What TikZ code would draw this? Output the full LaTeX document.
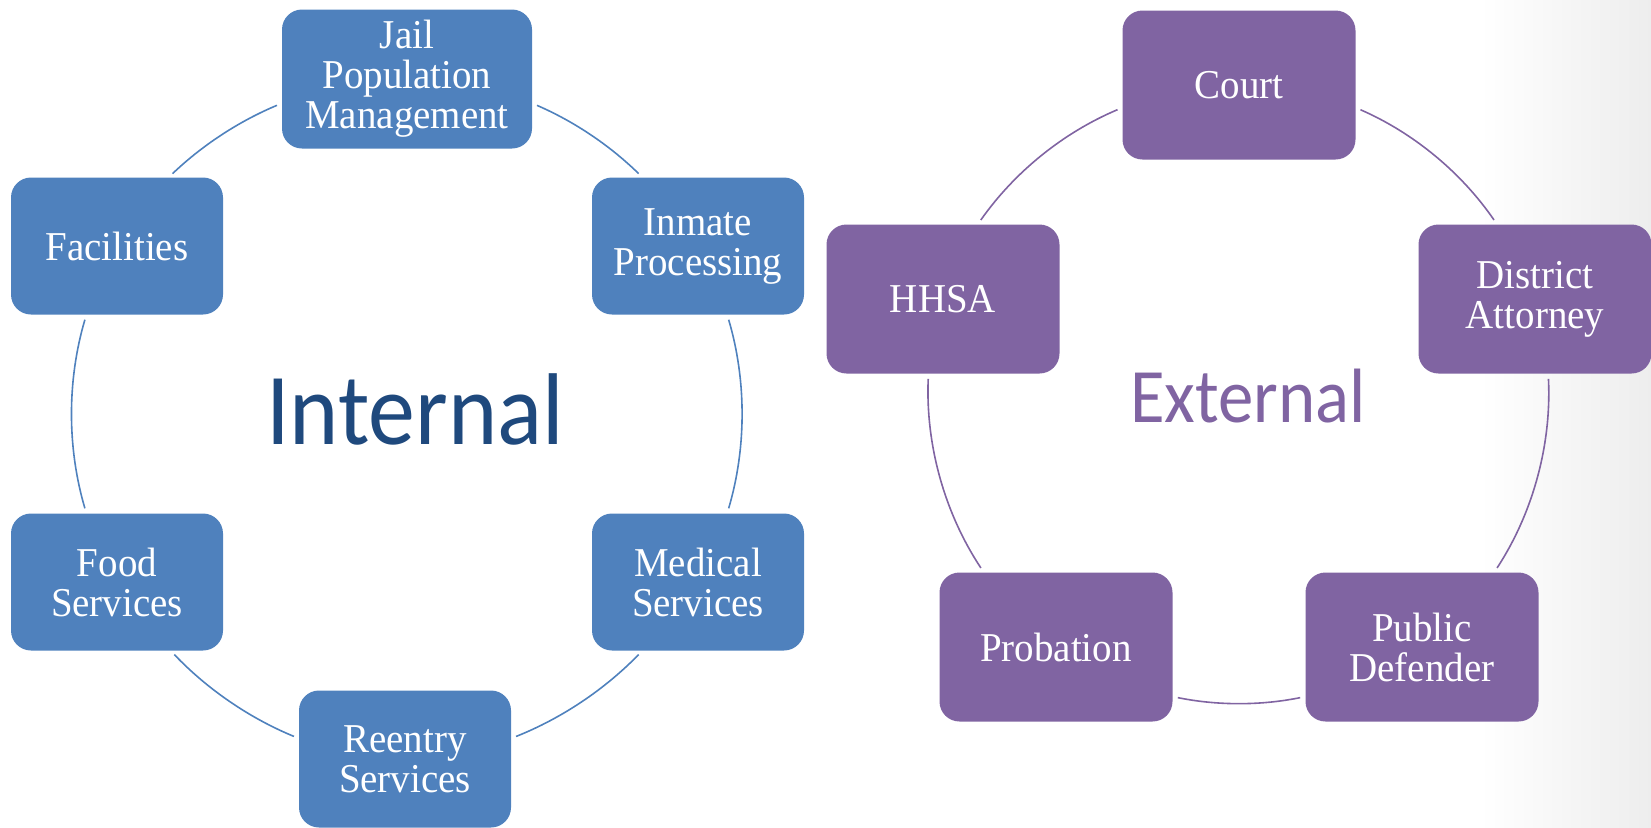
\documentclass[tikz,border=0pt]{standalone}
\usepackage{fontspec}
\setmainfont{Liberation Serif}
\newfontfamily\titulofont[FakeStretch=0.92]{Carlito}
\newfontfamily\caixafont[FakeStretch=0.95]{Liberation Serif}
\definecolor{azul}{HTML}{4F81BD}
\definecolor{azulescuro}{HTML}{1F497D}
\definecolor{roxo}{HTML}{8064A2}
\begin{document}
\begin{tikzpicture}[x=0.5pt,y=-0.5pt]
        %======estilos dos blocos==========%

            \tikzstyle{bloco}=[rectangle,rounded corners=10pt,inner sep=0pt,align=center,text=white,font=\caixafont\fontsize{20.5}{20}\selectfont]
            \tikzstyle{interno}=[bloco,fill=azul,minimum width=106pt,minimum height=68.5pt]
            \tikzstyle{externo}=[bloco,fill=roxo,minimum width=116.5pt,minimum height=74.5pt]
            \tikzstyle{lig_int}=[azul,line width=0.8pt,looseness=0.88,shorten <=2.5pt,shorten >=2.5pt]
            \tikzstyle{lig_ext}=[roxo,line width=0.8pt,looseness=0.88,shorten <=2.5pt,shorten >=2.5pt]

        %====================%%=============%

            \useasboundingbox (0,0) rectangle (1651,827);
            \shade[left color=white,right color=black!7] (1480,0) rectangle (1651,827);

            % circulo interno
            \node[interno,minimum width=125pt,minimum height=69.5pt](jail) at (407,79) {Jail\\Population\\Management};
            \node[interno](inmate) at (698,246) {Inmate\\Processing};
            \node[interno](medical) at (698,582) {Medical\\Services};
            \node[interno](reentry) at (405,759) {Reentry\\Services};
            \node[interno](food) at (117,582) {Food\\Services};
            \node[interno](facil) at (117,246) {Facilities};
            \node[text=azulescuro,font=\titulofont\fontsize{51}{51}\selectfont,anchor=base](internal) at (415,444) {Internal};

            \draw[lig_int](jail.-11) to[bend left=10.5] (inmate.129);
            \draw[lig_int](inmate.-67) to[bend left=16.5] (medical.67);
            \draw[lig_int](medical.-129) to[bend left=12] (reentry.11);
            \draw[lig_int](reentry.169) to[bend left=12] (food.-52);
            \draw[lig_int](food.114) to[bend left=16.5] (facil.-114);
            \draw[lig_int](facil.53) to[bend left=10.5] (jail.-169);

            % circulo externo
            \node[externo](court) at (1239,85) {Court};
            \node[externo](da) at (1535,299) {District\\Attorney};
            \node[externo](pd) at (1422,647) {Public\\Defender};
            \node[externo](prob) at (1056,647) {Probation};
            \node[externo](hhsa) at (943,299) {HHSA};
            \node[text=roxo,font=\titulofont\fontsize{38.5}{38.5}\selectfont,anchor=base](external) at (1248,422) {External};

            \draw[lig_ext](court.-11) to[bend left=16] (da.117);
            \draw[lig_ext](da.-80) to[bend left=18] (pd.46);
            \draw[lig_ext](pd.-157) to[bend left=11.5] (prob.-23);
            \draw[lig_ext](prob.134) to[bend left=18] (hhsa.-101);
            \draw[lig_ext](hhsa.65) to[bend left=16] (court.-169);
        \end{tikzpicture}
\end{document}
